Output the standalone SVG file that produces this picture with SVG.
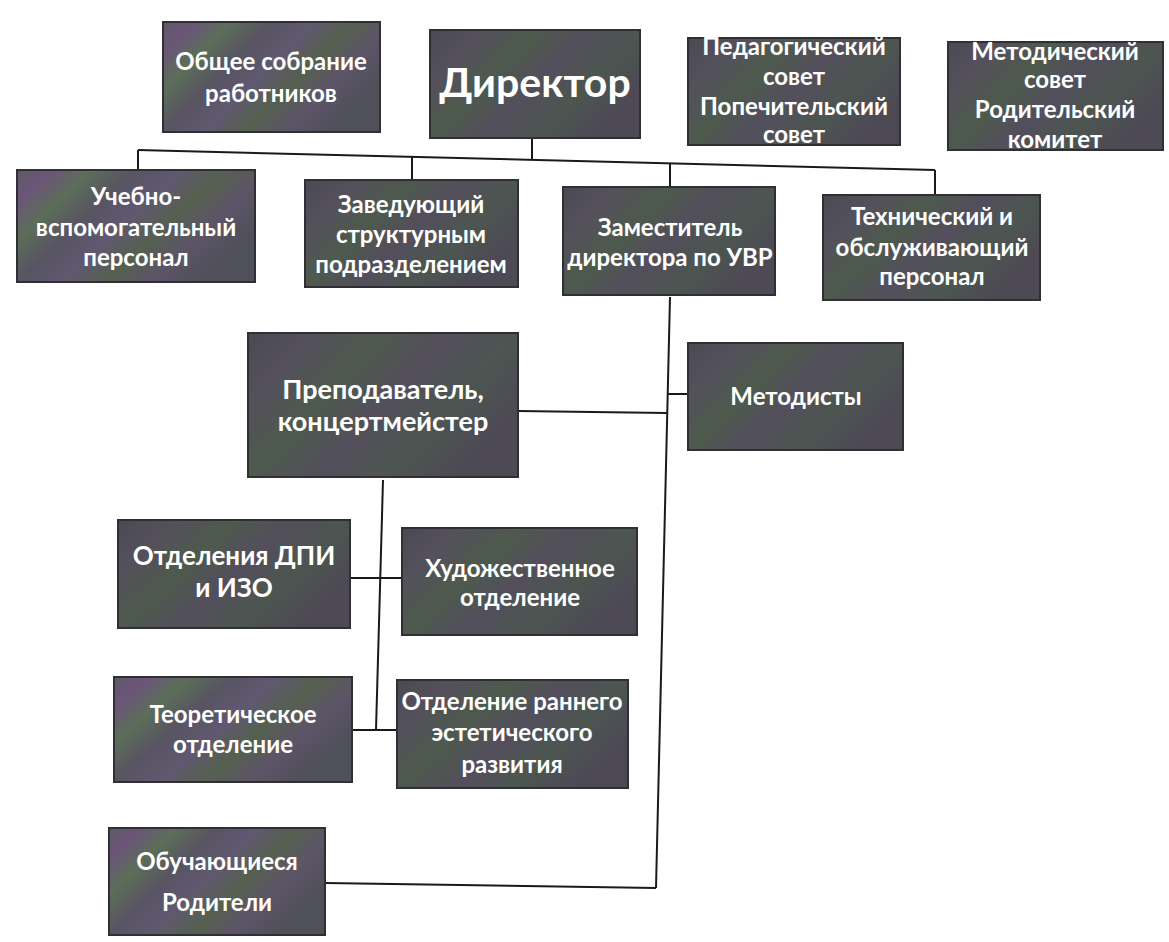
<svg xmlns="http://www.w3.org/2000/svg" width="1169" height="942" viewBox="0 0 1169 942">
<defs>
<linearGradient id="mot" x1="0" y1="0" x2="1" y2="0.5" gradientUnits="objectBoundingBox">
<stop offset="0" stop-color="#5e5a66"/>
<stop offset="0.12" stop-color="#6b5578"/>
<stop offset="0.25" stop-color="#5b6e58"/>
<stop offset="0.4" stop-color="#585462"/>
<stop offset="0.55" stop-color="#605870"/>
<stop offset="0.7" stop-color="#55604f"/>
<stop offset="0.85" stop-color="#5d5468"/>
<stop offset="1" stop-color="#50505a"/>
</linearGradient>
<linearGradient id="dark" x1="0" y1="0" x2="1" y2="0.5" gradientUnits="objectBoundingBox">
<stop offset="0" stop-color="#4a4a52"/>
<stop offset="0.2" stop-color="#54505c"/>
<stop offset="0.4" stop-color="#4d5a4c"/>
<stop offset="0.6" stop-color="#534e5c"/>
<stop offset="0.8" stop-color="#4c5650"/>
<stop offset="1" stop-color="#4d4a55"/>
</linearGradient>
</defs>
<style>
.b{fill:url(#dark);stroke:#2f2f34;stroke-width:2}
.m{fill:url(#mot);stroke:#2f2f34;stroke-width:2}
text{font-family:Lato,"Open Sans","Liberation Sans",sans-serif;font-weight:bold;fill:#ffffff;text-anchor:middle;font-size:24px}
.big{font-size:41px}
.l{font-size:27px}
.d{font-size:26px}
.c{fill:none;stroke:#1a1a1a;stroke-width:2}
</style>
<rect width="1169" height="942" fill="#ffffff"/>
<g id="connectors">
<path class="c" d="M138,150 L935,170"/>
<path class="c" d="M532,138 L532,160"/>
<path class="c" d="M138,150 L138,170"/>
<path class="c" d="M412,157 L412,180"/>
<path class="c" d="M670,163 L670,187"/>
<path class="c" d="M935,170 L935,195"/>
<path class="c" d="M670,297 L656,888"/>
<path class="c" d="M667.7,394 L688,394"/>
<path class="c" d="M518,411 L667,413"/>
<path class="c" d="M325,883 L656,888"/>
<path class="c" d="M383,480 L376,730"/>
<path class="c" d="M350,578 L402,578"/>
<path class="c" d="M352,730 L397,730"/>
</g>
<g id="n-obshchee">
<rect class="m" x="163" y="22" width="217" height="110"/>
<text x="271" y="70">Общее собрание</text>
<text x="271" y="102">работников</text>
</g>
<g id="n-direktor">
<rect class="b" x="430" y="30" width="210" height="108"/>
<text class="big" x="535" y="97">Директор</text>
</g>
<g id="n-ped">
<rect class="b" x="688" y="38" width="212" height="107"/>
<text x="794" y="55">Педагогический</text>
<text x="794" y="85">совет</text>
<text x="794" y="115">Попечительский</text>
<text x="794" y="143">совет</text>
</g>
<g id="n-metod">
<rect class="b" x="948" y="42" width="215" height="108"/>
<text x="1055" y="60">Методический</text>
<text x="1055" y="88">совет</text>
<text x="1055" y="118">Родительский</text>
<text x="1055" y="148">комитет</text>
</g>
<g id="n-uchebno">
<rect class="m" x="17" y="170" width="238" height="112"/>
<text x="136" y="205">Учебно-</text>
<text x="136" y="236">вспомогательный</text>
<text x="136" y="266">персонал</text>
</g>
<g id="n-zaved">
<rect class="b" x="305" y="180" width="213" height="107"/>
<text x="411" y="213">Заведующий</text>
<text x="411" y="243">структурным</text>
<text x="411" y="273">подразделением</text>
</g>
<g id="n-zam">
<rect class="b" x="563" y="187" width="212" height="108"/>
<text x="670" y="236">Заместитель</text>
<text x="670" y="266">директора по УВР</text>
</g>
<g id="n-tekh">
<rect class="b" x="823" y="195" width="217" height="105"/>
<text x="932" y="225">Технический и</text>
<text x="932" y="256">обслуживающий</text>
<text x="932" y="285">персонал</text>
</g>
<g id="n-prep">
<rect class="b" x="248" y="333" width="270" height="144"/>
<text class="l" x="383" y="399">Преподаватель,</text>
<text class="l" x="383" y="431">концертмейстер</text>
</g>
<g id="n-metodisty">
<rect class="b" x="688" y="343" width="215" height="107"/>
<text x="796" y="405">Методисты</text>
</g>
<g id="n-dpi">
<rect class="b" x="118" y="520" width="232" height="108"/>
<text class="d" x="234" y="565">Отделения ДПИ</text>
<text class="d" x="234" y="597">и ИЗО</text>
</g>
<g id="n-khud">
<rect class="b" x="402" y="528" width="235" height="107"/>
<text x="520" y="577">Художественное</text>
<text x="520" y="606">отделение</text>
</g>
<g id="n-teor">
<rect class="m" x="114" y="677" width="238" height="105"/>
<text x="233" y="723">Теоретическое</text>
<text x="233" y="753">отделение</text>
</g>
<g id="n-rannee">
<rect class="b" x="397" y="680" width="231" height="108"/>
<text x="512" y="710">Отделение раннего</text>
<text x="512" y="741">эстетического</text>
<text x="512" y="773">развития</text>
</g>
<g id="n-obuch">
<rect class="m" x="109" y="828" width="216" height="107"/>
<text x="217" y="870">Обучающиеся</text>
<text x="217" y="911">Родители</text>
</g>
</svg>
